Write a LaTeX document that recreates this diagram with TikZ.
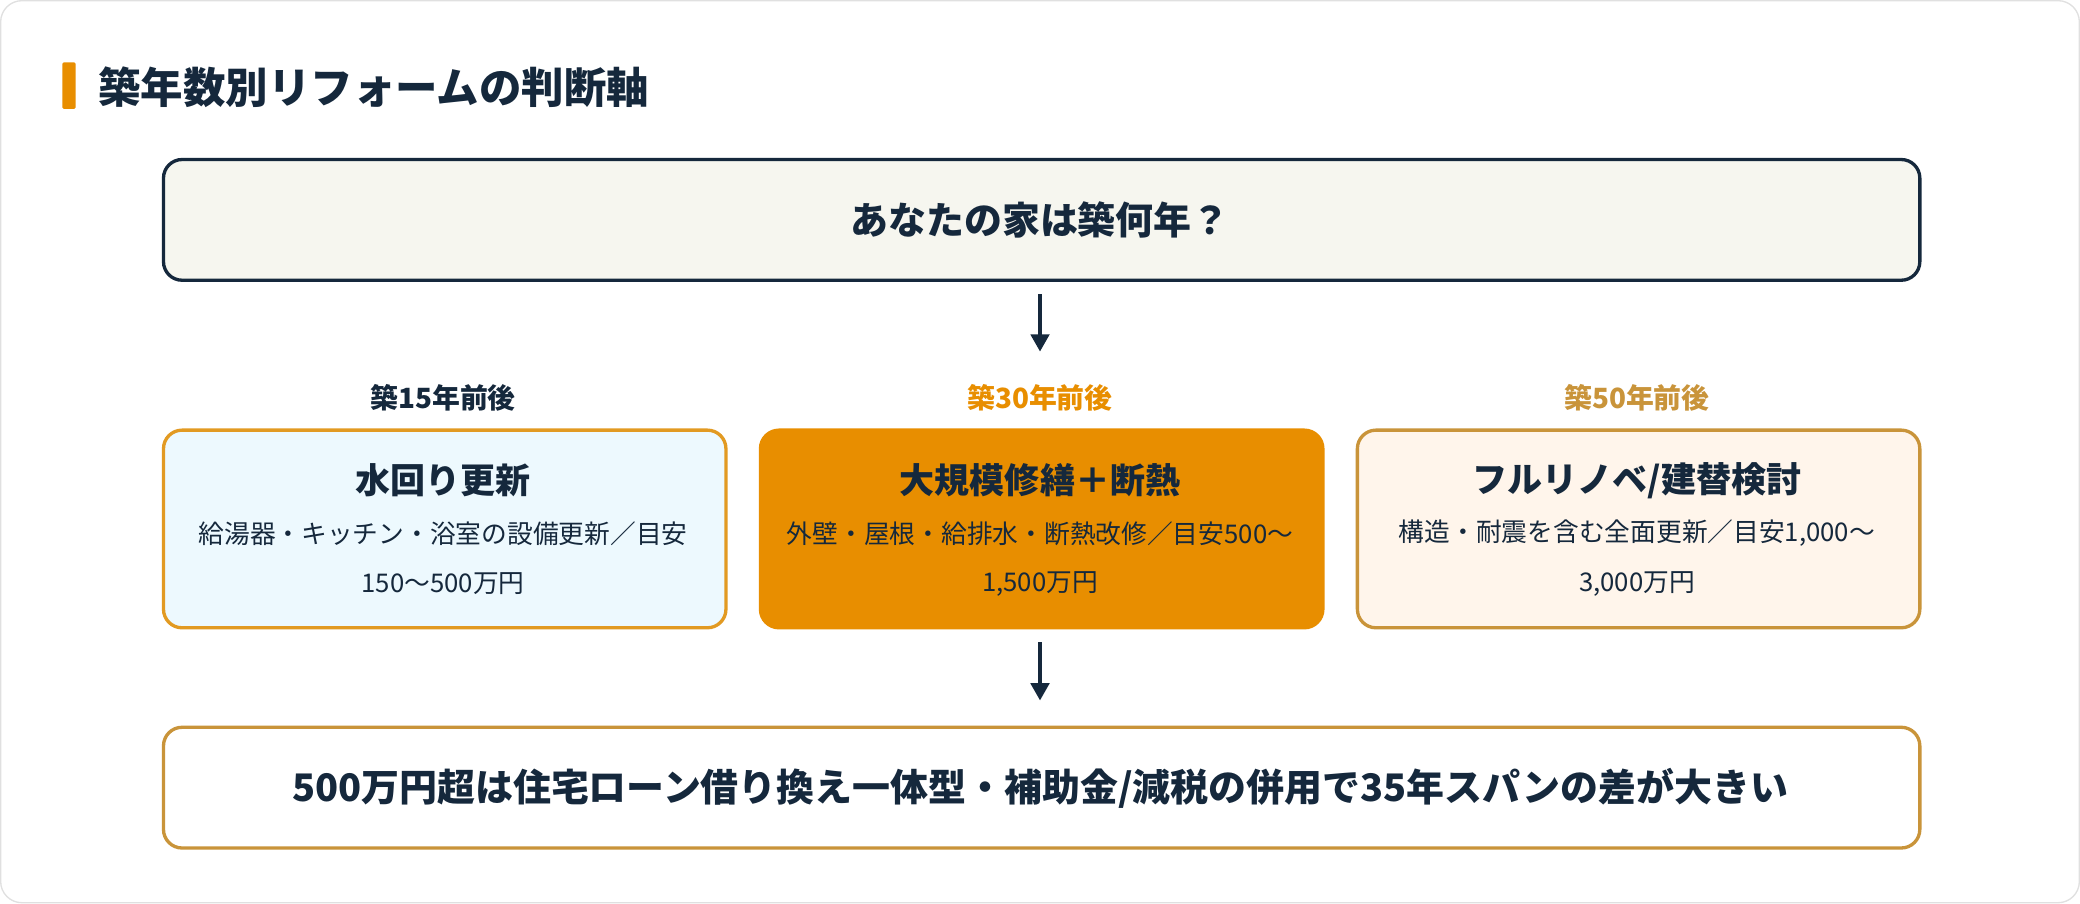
\documentclass[tikz,border=0pt]{standalone}
\usepackage{fontspec}
\setmainfont{Noto Sans CJK JP}
\usetikzlibrary{arrows.meta}
\definecolor{navy}{HTML}{15283C}
\definecolor{org}{HTML}{E88E00}
\definecolor{gold}{HTML}{C9943A}
\definecolor{orgb}{HTML}{E29A22}
\begin{document}
\begin{tikzpicture}[x=1pt,y=-1pt,
  box/.style={draw,rounded corners=14pt,line width=2.5pt,minimum height=91pt,minimum width=1324pt,anchor=north west,inner sep=0pt},
  cbox/.style={rounded corners=14pt,line width=2.5pt,minimum height=149pt,minimum width=424pt,anchor=north west,inner sep=0pt},
  lab/.style={font=\fontsize{21}{23}\selectfont\bfseries},
  ttl/.style={font=\fontsize{26.4}{28}\selectfont\bfseries,text=navy},
  txt/.style={font=\fontsize{19.4}{21}\selectfont,text=navy},
  arr/.style={-{Triangle[width=14pt,length=13pt]},line width=2.5pt,navy}]
\draw[rounded corners=16pt,line width=1pt,draw=black!12,fill=white] (0.5,0.5) rectangle (1567.5,680.5);
\useasboundingbox (0,0) rectangle (1568,681);
\fill[org,rounded corners=1pt] (47,47) rectangle (57,82);
\node[anchor=west,text=navy,font=\fontsize{32}{34}\selectfont\bfseries,inner sep=0pt] (title) at (74,66) {築年数別リフォームの判断軸};
\node[box,draw=navy,fill=black!4!white!97!yellow] (q) at (122,119) {};
\node[text=navy,font=\fontsize{28.6}{30}\selectfont\bfseries] (qt) at (784,166) {あなたの家は築何年？};
\coordinate (a1) at (784,222);\coordinate (a1e) at (784,265);
\draw[arr] (a1) -- (a1e);
\node[lab,text=navy] (l1) at (334,300) {築15年前後};
\node[lab,text=org] (l2) at (784,300) {築30年前後};
\node[lab,text=gold] (l3) at (1234,300) {築50年前後};
\node[cbox,draw=orgb,fill=cyan!7] (b1) at (122,323) {};
\node[cbox,draw=org,fill=org] (b2) at (572,323) {};
\node[cbox,draw=gold,fill=orange!8] (b3) at (1022,323) {};
\node[ttl] (t1) at (334,362) {水回り更新};
\node[txt] (s1) at (334,402) {給湯器・キッチン・浴室の設備更新／目安};
\node[txt] (u1) at (334,440) {150〜500万円};
\node[ttl] (t2) at (784,362) {大規模修繕＋断熱};
\node[txt] (s2) at (784,402) {外壁・屋根・給排水・断熱改修／目安500〜};
\node[txt] (u2) at (784,440) {1,500万円};
\node[ttl] (t3) at (1234,362) {フルリノベ/建替検討};
\node[txt] (s3) at (1234,402) {構造・耐震を含む全面更新／目安1,000〜};
\node[txt] (u3) at (1234,440) {3,000万円};
\coordinate (a2) at (784,484);\coordinate (a2e) at (784,528);
\draw[arr] (a2) -- (a2e);
\node[box,draw=gold,fill=white] (r) at (122,547) {};
\node[text=navy,font=\fontsize{28.6}{30}\selectfont\bfseries] (rt) at (784,594) {500万円超は住宅ローン借り換え一体型・補助金/減税の併用で35年スパンの差が大きい};
\end{tikzpicture}
\end{document}
